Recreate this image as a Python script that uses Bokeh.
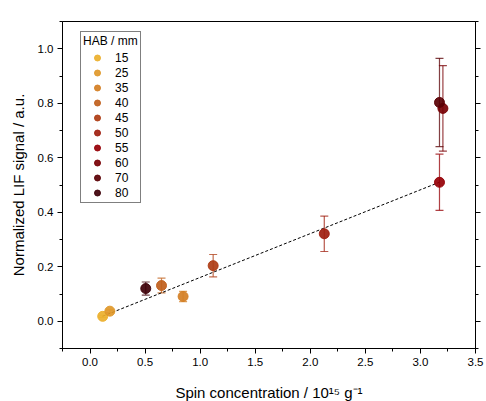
from bokeh.plotting import figure
from bokeh.models import (ColumnDataSource, Whisker, TeeHead, Legend, LegendItem,
                          LinearAxis, SingleIntervalTicker, PrintfTickFormatter, Range1d,
                          CustomJSTickFormatter)
from bokeh.embed import file_html
from bokeh.resources import INLINE

# ---- data ----
hab = ["15", "25", "35", "40", "45", "50", "55", "60", "70", "80"]
spin = [0.115, 0.18, 0.845, 0.649, 1.118, 2.127, 3.173, 3.204, 3.173, 0.506]
lif = [0.018, 0.037, 0.091, 0.131, 0.204, 0.321, 0.510, 0.781, 0.803, 0.120]
lif_err = [0.004, 0.005, 0.019, 0.027, 0.041, 0.065, 0.103, 0.157, 0.162, 0.024]
colors = ["#EBB02E", "#E0982A", "#D47F24", "#C0601C", "#AE3C14",
          "#A02010", "#960006", "#780004", "#5A0004", "#3E0008"]
fit_x = [0.115, 3.173]
fit_slope = 0.1608

FONT = "Liberation Sans"

p = figure(frame_width=413, frame_height=327, output_backend="svg", toolbar_location=None,
           x_range=Range1d(-0.25, 3.5), y_range=Range1d(-0.1, 1.1),
           min_border_left=62, min_border_right=11, min_border_top=21, min_border_bottom=53,
           x_axis_label="Spin concentration / 10\u00b9\u2075 g\u207b\u00b9",
           y_axis_label="Normalized LIF signal / a.u.")
p.grid.visible = False
p.outline_line_color = "black"
p.outline_line_width = 1

xt = SingleIntervalTicker(interval=0.5, num_minor_ticks=2)
yt = SingleIntervalTicker(interval=0.2, num_minor_ticks=2)
p.xaxis.ticker = xt
p.yaxis.ticker = yt
p.xaxis.formatter = PrintfTickFormatter(format="%.1f")
p.yaxis.formatter = PrintfTickFormatter(format="%.1f")

for ax in (p.xaxis[0], p.yaxis[0]):
    ax.major_tick_out = 5
    ax.major_tick_in = 0
    ax.minor_tick_out = 3
    ax.minor_tick_in = 0
    ax.axis_line_color = "black"
    ax.major_tick_line_color = "black"
    ax.minor_tick_line_color = "black"
    ax.major_label_text_font = FONT
    ax.major_label_text_font_size = "11.5px"
    ax.major_label_text_color = "black"
    ax.axis_label_text_font = FONT
    ax.axis_label_text_font_size = "15px"
    ax.axis_label_text_font_style = "normal"
    ax.axis_label_text_color = "black"
    ax.major_label_standoff = 4
p.yaxis[0].axis_label_standoff = 8
p.xaxis[0].axis_label_standoff = 15

ra = LinearAxis(ticker=yt, formatter=CustomJSTickFormatter(code="return ''"),
                major_label_standoff=0,
                major_tick_out=5, major_tick_in=0, minor_tick_out=3, minor_tick_in=0)
p.add_layout(ra, "right")

# fit line
fit_y = [fit_slope * v for v in fit_x]
p.line(fit_x, fit_y, line_color="black", line_width=1, line_dash="3 2")

# error bars
src = ColumnDataSource(dict(x=spin, y=lif,
                            lo=[a - b for a, b in zip(lif, lif_err)],
                            hi=[a + b for a, b in zip(lif, lif_err)],
                            c=colors, hab=hab))
w = Whisker(source=src, base="x", lower="lo", upper="hi", line_color="c", line_alpha=0.75,
            line_width=1.2,
            upper_head=TeeHead(size=8, line_color="c", line_alpha=0.75, line_width=1.2),
            lower_head=TeeHead(size=8, line_color="c", line_alpha=0.75, line_width=1.2))
p.add_layout(w)

items = []
for i in range(len(hab)):
    s = ColumnDataSource(dict(x=[spin[i]], y=[lif[i]]))
    r = p.scatter("x", "y", source=s, size=10, fill_color=colors[i], line_color=colors[i],
                  fill_alpha=0.92, line_alpha=0.92)
    items.append(LegendItem(label=hab[i], renderers=[r]))

legend = Legend(items=items, location=(18, 145), title="HAB / mm",
                title_text_font=FONT, title_text_font_size="12px", title_text_font_style="normal",
                title_text_color="black",
                label_text_font=FONT, label_text_font_size="12px", label_text_color="black",
                border_line_color="black", border_line_width=1,
                padding=2, spacing=0, label_height=15, glyph_height=15, glyph_width=28,
                label_standoff=4, title_standoff=2, margin=0, background_fill_alpha=1)
p.add_layout(legend, "center")

open("out.html", "w").write(file_html(p, INLINE))
